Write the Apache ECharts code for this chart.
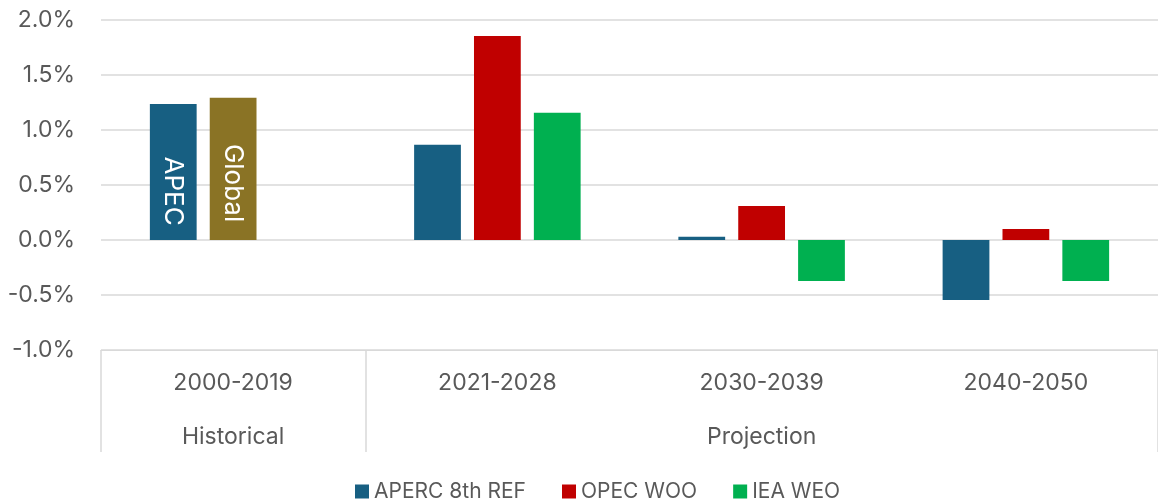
<!DOCTYPE html>
<html>
<head>
<meta charset="utf-8">
<script src="https://cdn.jsdelivr.net/npm/echarts@6/dist/echarts.min.js"></script>
<style>
  html, body { margin: 0; padding: 0; background: #fff; }
  #chart { width: 1158px; height: 499px; }
</style>
</head>
<body>
<div id="chart"></div>
<script>
const categories = ['2000-2019', '2021-2028', '2030-2039', '2040-2050'];
const groupLabels = ['Historical', '', 'Projection', ''];
const apercRef = [1.236, 0.866, 0.03, -0.545];
const opecWoo = [1.294, 1.855, 0.31, 0.10];   // first point is the "Global" historical bar
const ieaWeo = [null, 1.157, -0.373, -0.373];
const yTicks = { min: -1, max: 2, step: 0.5 };

const textColor = '#595959';
const gridColor = '#d9d9d9';
const font = 'Inter, "DejaVu Sans", sans-serif';

const chart = echarts.init(document.getElementById('chart'));

const barLabel = (text, pos) => ({
    show: true,
    formatter: text,
    rotate: -90,
    position: ['50%', pos],
    align: 'center',
    verticalAlign: 'middle',
    color: '#fff',
    fontSize: 26,
    fontFamily: font
});

const option = {
    animation: false,
    grid: { left: 101, right: -8, top: 20, bottom: 149 },
    legend: {
        data: ['APERC 8th REF', 'OPEC WOO', 'IEA WEO'],
        icon: 'rect',
        left: 350,
        top: 476,
        itemWidth: 14,
        itemHeight: 14,
        itemGap: 36,
        textStyle: { color: textColor, fontSize: 21, fontFamily: font }
    },
    xAxis: [
        {
            type: 'category',
            data: categories,
            axisLine: { onZero: false, lineStyle: { color: gridColor } },
            axisTick: {
                show: true,
                length: 102,
                interval: (i) => i <= 1,
                lineStyle: { color: gridColor, width: 1.5 }
            },
            axisLabel: { color: textColor, fontSize: 23, fontFamily: font, margin: 22 }
        },
        {
            type: 'category',
            position: 'bottom',
            offset: 54,
            data: groupLabels,
            axisLine: { show: false },
            axisTick: { show: false },
            axisLabel: { color: textColor, fontSize: 23, fontFamily: font, margin: 22, interval: 0 }
        }
    ],
    yAxis: {
        type: 'value',
        min: yTicks.min,
        max: yTicks.max,
        interval: yTicks.step,
        axisLine: { show: false },
        axisTick: { show: false },
        splitLine: { lineStyle: { color: gridColor, width: 1.5 } },
        axisLabel: {
            color: textColor,
            fontSize: 23,
            fontFamily: font,
            margin: 26,
            formatter: (v) => v.toFixed(1) + '%'
        }
    },
    series: [
        {
            name: 'APERC 8th REF',
            type: 'bar',
            color: '#175f82',
            barWidth: '17.7%',
            barGap: '28%',
            data: apercRef.map((v, i) => i === 0 ? { value: v, label: barLabel('APEC', '64%') } : v)
        },
        {
            name: 'OPEC WOO',
            type: 'bar',
            color: '#c00000',
            barWidth: '17.7%',
            barGap: '28%',
            data: opecWoo.map((v, i) => i === 0
                ? { value: v, itemStyle: { color: '#8a7325' }, label: barLabel('Global', '60%') }
                : v)
        },
        {
            name: 'IEA WEO',
            type: 'bar',
            color: '#00b050',
            barWidth: '17.7%',
            barGap: '28%',
            data: ieaWeo
        }
    ]
};

chart.setOption(option);
</script>
</body>
</html>
